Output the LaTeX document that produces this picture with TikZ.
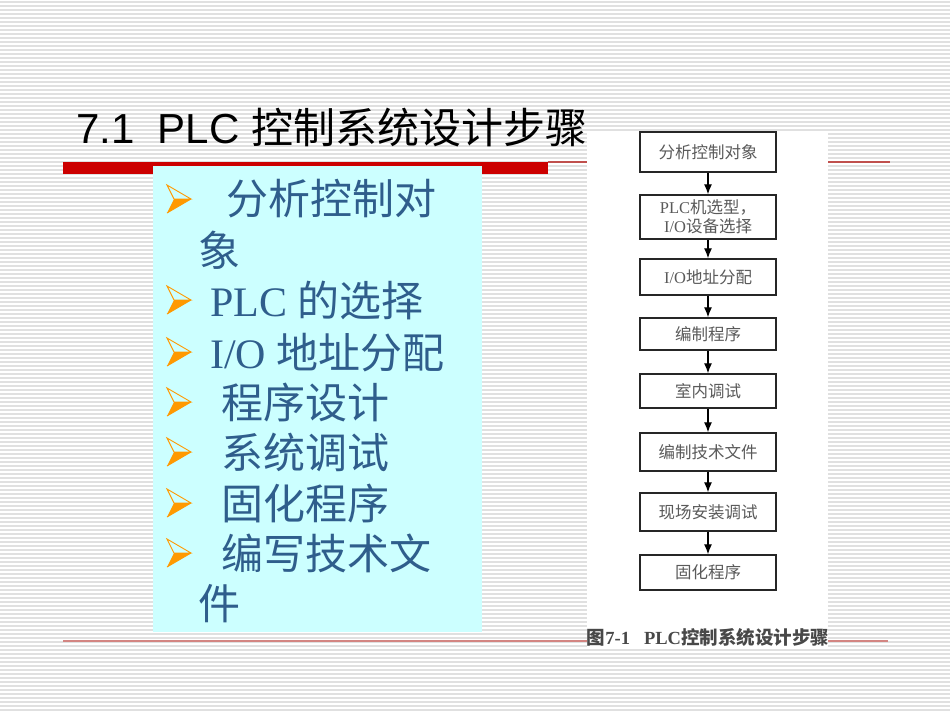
\documentclass[tikz,border=0pt]{standalone}
\usepackage{fontspec}
\setmainfont{Liberation Serif}
\newfontfamily\cjk{Noto Sans CJK SC}
\newfontfamily\titlefont{Liberation Sans}
\usetikzlibrary{arrows.meta}
\definecolor{stripecol}{RGB}{224,224,224}
\definecolor{barred}{RGB}{204,0,0}
\definecolor{linered}{RGB}{192,80,77}
\definecolor{boxcyan}{RGB}{204,255,255}
\definecolor{bluetext}{RGB}{47,94,140}
\definecolor{bulletorange}{RGB}{255,153,0}
\definecolor{figtext}{RGB}{90,90,90}
\begin{document}
\begin{tikzpicture}[x=1pt,y=-1pt,
  stripe/.style={stripecol,line width=1.6pt},
  bullettext/.style={anchor=base west,inner sep=0,text=bluetext,font=\fontsize{42}{42}\selectfont},
  flowbox/.style={draw=black!85,line width=1.4pt,fill=white,minimum width=136pt,inner sep=0,
     text=figtext,font=\fontsize{16.5}{19}\selectfont,align=center},
  flowarrow/.style={black,line width=1.2pt,-{Latex[length=10pt,width=8pt]}},
  barrow/.pic={
    \fill[bulletorange] (0,28) -- (24,14) -- (7,14) -- cycle;
    \draw[bulletorange,line width=0.9pt,line join=miter] (0,0) -- (24,14) -- (7,14) -- cycle;
    \draw[bulletorange,line width=0.9pt] (0,28) -- (24,14);
  }]
\useasboundingbox (0,0) rectangle (950,713);
\fill[white] (0,0) rectangle (950,713);
\foreach \y in {2,6,...,713} \draw[stripe] (0,\y) -- (950,\y);
% title
\node[anchor=base west,inner sep=0,font=\fontsize{42}{42}\selectfont] (title) at (76,143)
  {{\titlefont 7.1\ \ PLC }{\cjk 控制系统设计步骤}};
% red bar and lines
\fill[barred] (63,162) rectangle (548,174);
\draw[linered,line width=1.3pt] (548,162) -- (890,162);
\draw[linered!70,line width=1.1pt] (63,641) -- (888,641);
% cyan box
\fill[boxcyan] (153,166) rectangle (482,632);
% bullets
\foreach \y in {185,286,338,388,438,489,539} \pic at (167,\y) {barrow};
\node[bullettext] (l1) at (226,214) {\cjk 分析控制对};
\node[bullettext] (l1b) at (198,266) {\cjk 象};
\node[bullettext] (l2) at (210,316) {PLC {\cjk 的选择}};
\node[bullettext] (l3) at (210,368) {I/O {\cjk 地址分配}};
\node[bullettext] (l4) at (221,418) {\cjk 程序设计};
\node[bullettext] (l5) at (221,468) {\cjk 系统调试};
\node[bullettext] (l6) at (221,519) {\cjk 固化程序};
\node[bullettext] (l7) at (221,569) {\cjk 编写技术文};
\node[bullettext] (l7b) at (198,619) {\cjk 件};
% figure
\fill[white] (587,131) rectangle (828,648);
\node[flowbox,minimum height=40pt] (b1) at (708,152) {\cjk 分析控制对象};
\node[flowbox,minimum height=44pt] (b2) at (708,217) {PLC{\cjk 机选型，}\\I/O{\cjk 设备选择}};
\node[flowbox,minimum height=36pt] (b3) at (708,277) {I/O{\cjk 地址分配}};
\node[flowbox,minimum height=32pt] (b4) at (708,334) {\cjk 编制程序};
\node[flowbox,minimum height=34pt] (b5) at (708,391) {\cjk 室内调试};
\node[flowbox,minimum height=38pt] (b6) at (708,452) {\cjk 编制技术文件};
\node[flowbox,minimum height=38pt] (b7) at (708,512) {\cjk 现场安装调试};
\node[flowbox,minimum height=35pt] (b8) at (708,572.5) {\cjk 固化程序};
\foreach \a/\b in {b1/b2,b2/b3,b3/b4,b4/b5,b5/b6,b6/b7,b7/b8}
  \draw[flowarrow] (\a) -- (\b);
\node[anchor=center,inner sep=0,text=figtext!80!black,font=\fontsize{18.5}{18.5}\selectfont\bfseries] (cap) at (708,637)
  {{\cjk 图}7-1\ \ \ PLC{\cjk 控制系统设计步骤}};
\end{tikzpicture}
\end{document}
